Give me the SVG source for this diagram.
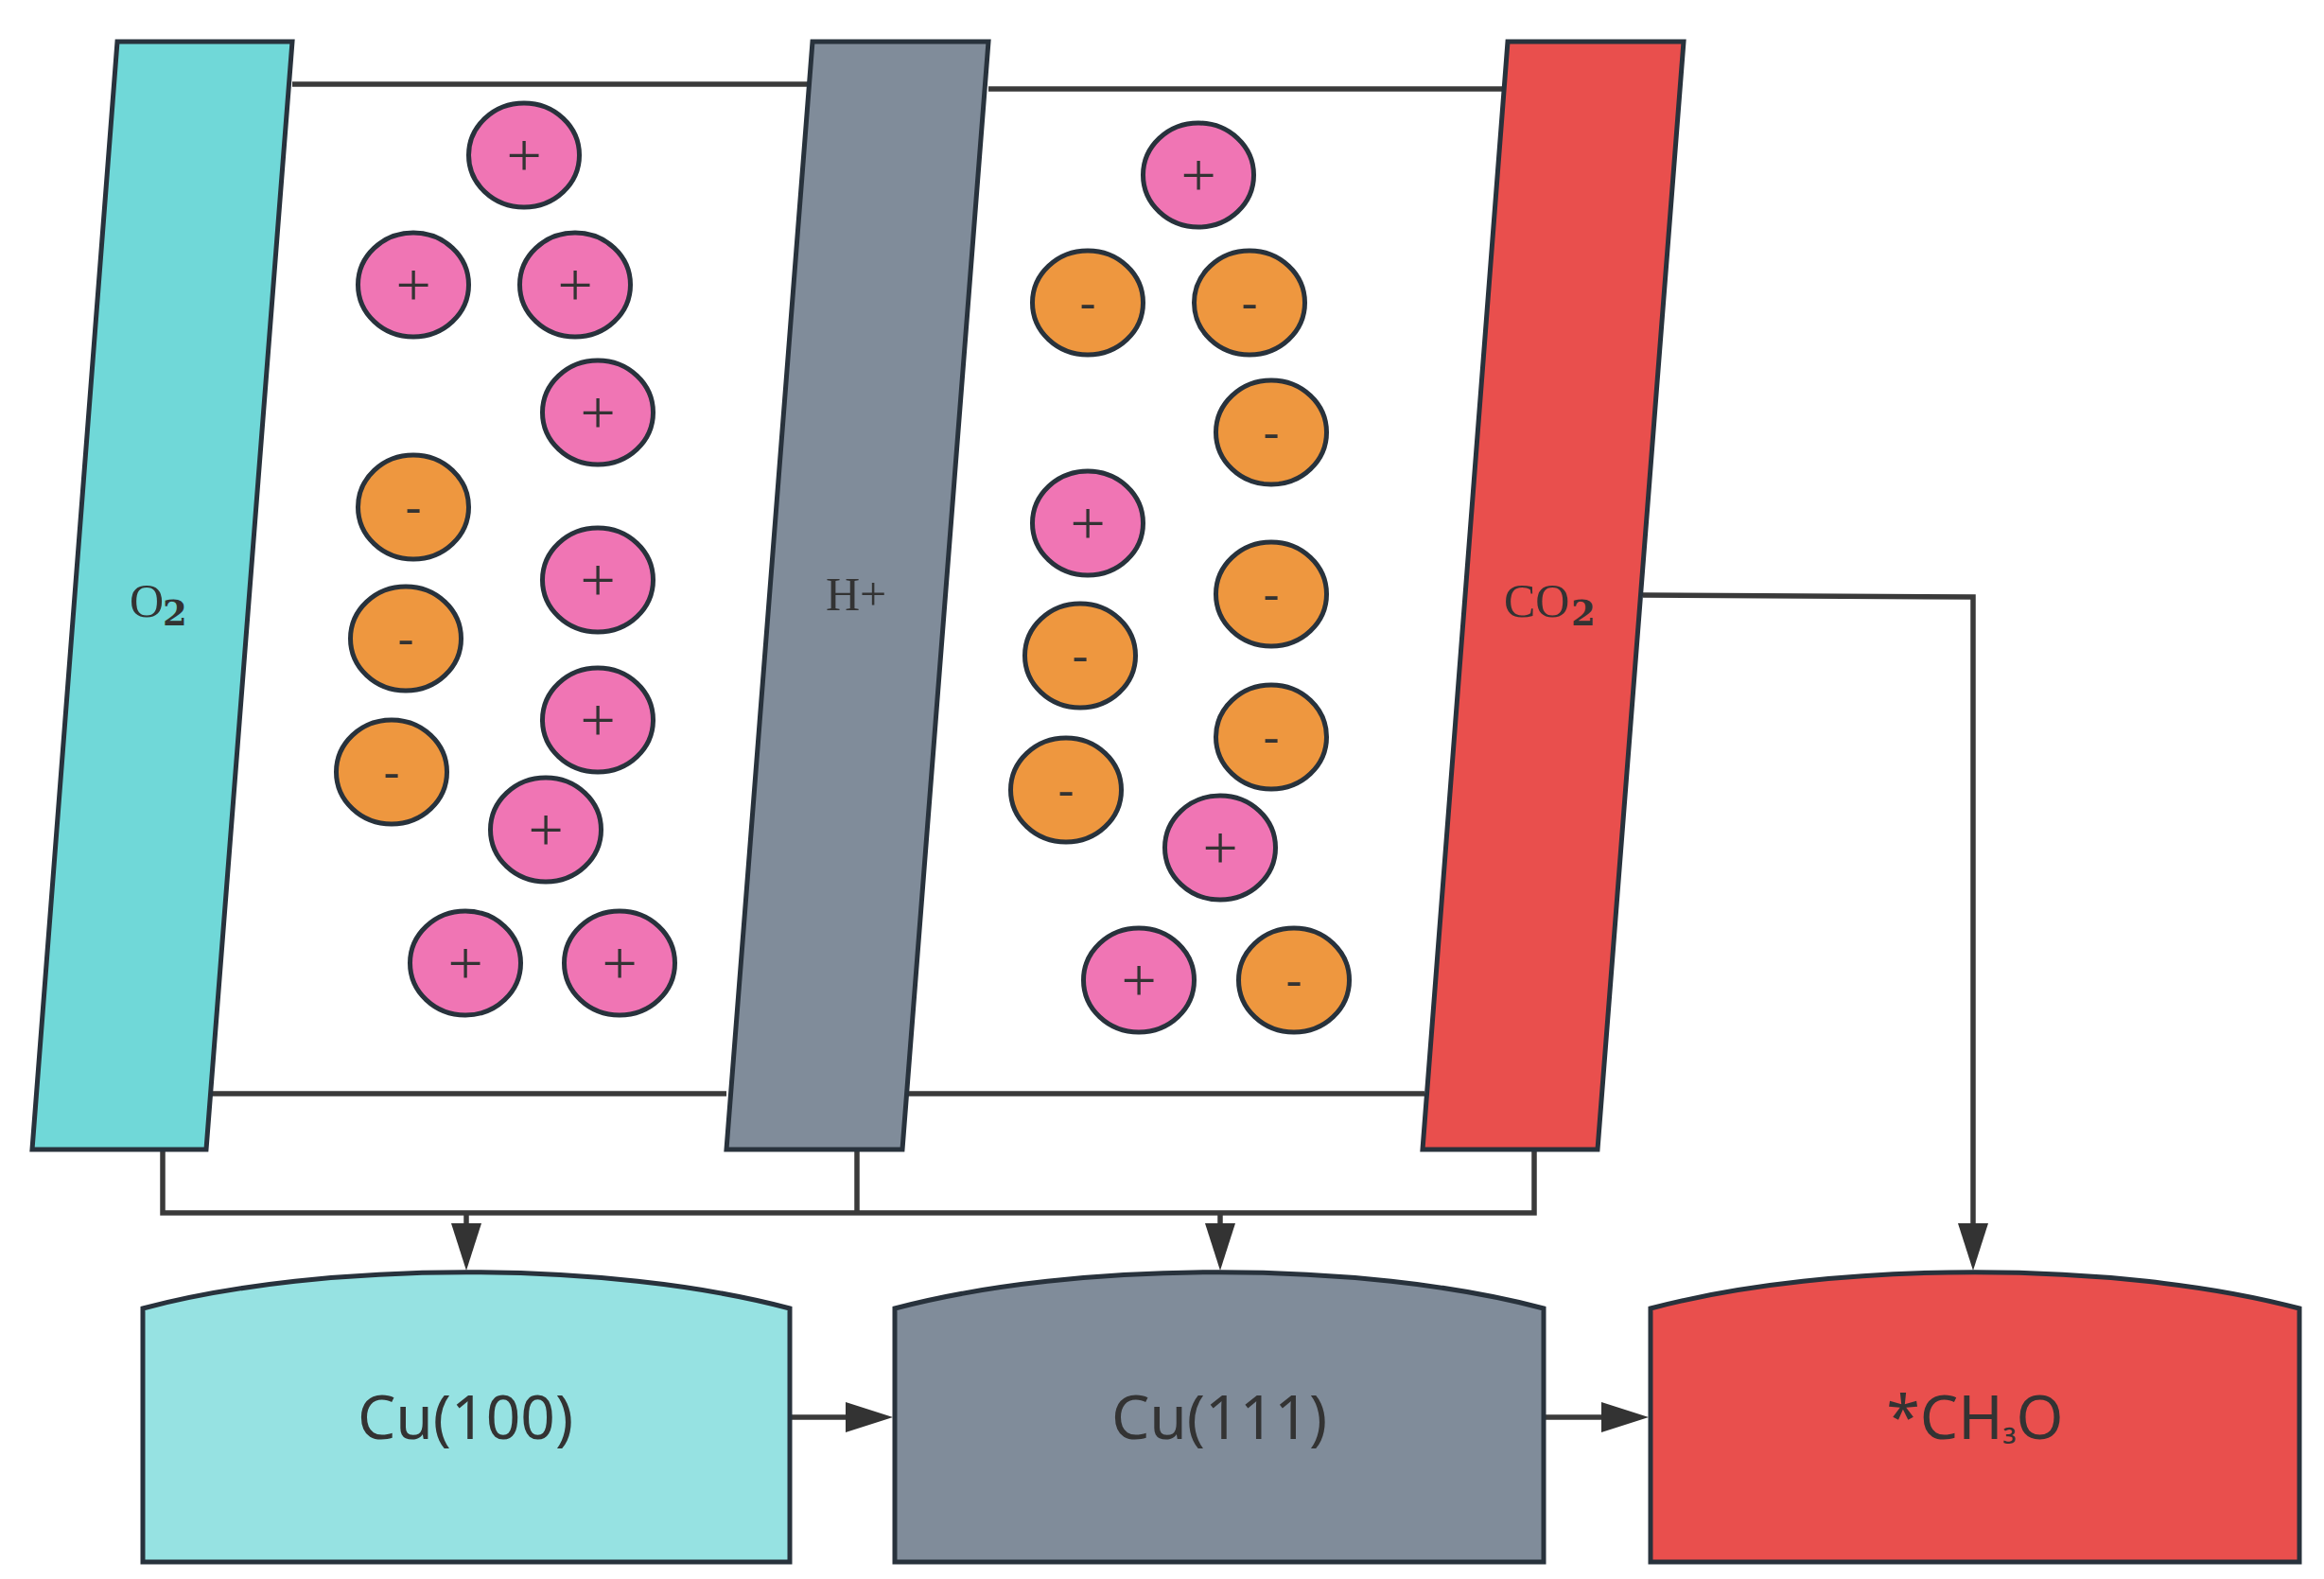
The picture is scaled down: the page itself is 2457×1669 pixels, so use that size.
<svg xmlns="http://www.w3.org/2000/svg" width="2457" height="1669" viewBox="0 0 2457 1669">
<style>
.wire{fill:none;stroke:#3a3a3a;stroke-width:5.5}
.sh{stroke:#28323c;stroke-width:5;stroke-linejoin:miter}
.pos{fill:#f075b4}.neg{fill:#ee973f}
.teal{fill:#70d8d8}.gray{fill:#808c9a}.red{fill:#e94f4d}.lteal{fill:#96e2e2}
.c{font-family:"Liberation Serif",serif;font-size:50px;fill:#333;text-anchor:middle}
.p{font-size:66px}
.m{font-family:"Liberation Serif",serif;font-size:50px;fill:#333}
.sub{font-family:"DejaVu Serif",serif;font-weight:700;font-size:37px;fill:#333}
.b{font-family:"Noto Sans",sans-serif;font-size:64px;fill:#333;text-anchor:middle}
.s3{font-size:40px}
</style>
<defs>
<marker id="ah" markerUnits="userSpaceOnUse" markerWidth="52" markerHeight="34" refX="0" refY="17" orient="auto"><path d="M0 1L50 17L0 33Z" fill="#333"/></marker>
</defs>
<rect width="2457" height="1669" fill="#fff"/>
<g id="connectors">
<path class="wire" d="M309 89H859"/>
<path class="wire" d="M1045 94H1594"/>
<path class="wire" d="M220 1156H768"/>
<path class="wire" d="M956 1156H1506"/>
<path class="wire" d="M172 1215V1282H1622V1215"/>
<path class="wire" d="M906 1215V1282"/>
<path class="wire" d="M493 1282V1293" marker-end="url(#ah)"/>
<path class="wire" d="M1290 1282V1293" marker-end="url(#ah)"/>
<path class="wire" d="M1737 629L2086 631V1293" marker-end="url(#ah)"/>
<path class="wire" d="M837 1498H894" marker-end="url(#ah)"/>
<path class="wire" d="M1634 1498H1693" marker-end="url(#ah)"/>
</g>
<g id="o2"><path class="sh teal" d="M124 44H309L218 1215H34Z"/><text class="m" x="137" y="652">O</text><text class="sub" x="172" y="661">2</text></g>
<g id="hplus"><path class="sh gray" d="M859 44H1045L954 1215H768Z"/><text class="m" x="873" y="645">H+</text></g>
<g id="co2"><path class="sh red" d="M1594 44H1780L1689 1215H1504Z"/><text class="m" x="1590" y="652">CO</text><text class="sub" x="1661" y="661">2</text></g>
<g id="left-ions">
<g id="l1"><ellipse class="sh pos" cx="554" cy="164" rx="58.5" ry="55"/><text class="c p" x="554" y="186">+</text></g>
<g id="l2"><ellipse class="sh pos" cx="437" cy="301" rx="58.5" ry="55"/><text class="c p" x="437" y="323">+</text></g>
<g id="l3"><ellipse class="sh pos" cx="608" cy="301" rx="58.5" ry="55"/><text class="c p" x="608" y="323">+</text></g>
<g id="l4"><ellipse class="sh pos" cx="632" cy="436" rx="58.5" ry="55"/><text class="c p" x="632" y="458">+</text></g>
<g id="l5"><ellipse class="sh neg" cx="437" cy="536" rx="58.5" ry="55"/><text class="c" x="437" y="552">-</text></g>
<g id="l6"><ellipse class="sh pos" cx="632" cy="613" rx="58.5" ry="55"/><text class="c p" x="632" y="635">+</text></g>
<g id="l7"><ellipse class="sh neg" cx="429" cy="675" rx="58.5" ry="55"/><text class="c" x="429" y="691">-</text></g>
<g id="l8"><ellipse class="sh pos" cx="632" cy="761" rx="58.5" ry="55"/><text class="c p" x="632" y="783">+</text></g>
<g id="l9"><ellipse class="sh neg" cx="414" cy="816" rx="58.5" ry="55"/><text class="c" x="414" y="832">-</text></g>
<g id="l10"><ellipse class="sh pos" cx="577" cy="877" rx="58.5" ry="55"/><text class="c p" x="577" y="899">+</text></g>
<g id="l11"><ellipse class="sh pos" cx="492" cy="1018" rx="58.5" ry="55"/><text class="c p" x="492" y="1040">+</text></g>
<g id="l12"><ellipse class="sh pos" cx="655" cy="1018" rx="58.5" ry="55"/><text class="c p" x="655" y="1040">+</text></g>
</g>
<g id="right-ions">
<g id="r1"><ellipse class="sh pos" cx="1267" cy="185" rx="58.5" ry="55"/><text class="c p" x="1267" y="207">+</text></g>
<g id="r2"><ellipse class="sh neg" cx="1150" cy="320" rx="58.5" ry="55"/><text class="c" x="1150" y="336">-</text></g>
<g id="r3"><ellipse class="sh neg" cx="1321" cy="320" rx="58.5" ry="55"/><text class="c" x="1321" y="336">-</text></g>
<g id="r4"><ellipse class="sh neg" cx="1344" cy="457" rx="58.5" ry="55"/><text class="c" x="1344" y="473">-</text></g>
<g id="r5"><ellipse class="sh pos" cx="1150" cy="553" rx="58.5" ry="55"/><text class="c p" x="1150" y="575">+</text></g>
<g id="r6"><ellipse class="sh neg" cx="1344" cy="628" rx="58.5" ry="55"/><text class="c" x="1344" y="644">-</text></g>
<g id="r7"><ellipse class="sh neg" cx="1142" cy="693" rx="58.5" ry="55"/><text class="c" x="1142" y="709">-</text></g>
<g id="r8"><ellipse class="sh neg" cx="1344" cy="779" rx="58.5" ry="55"/><text class="c" x="1344" y="795">-</text></g>
<g id="r9"><ellipse class="sh neg" cx="1127" cy="835" rx="58.5" ry="55"/><text class="c" x="1127" y="851">-</text></g>
<g id="r10"><ellipse class="sh pos" cx="1290" cy="896" rx="58.5" ry="55"/><text class="c p" x="1290" y="918">+</text></g>
<g id="r11"><ellipse class="sh pos" cx="1204" cy="1036" rx="58.5" ry="55"/><text class="c p" x="1204" y="1058">+</text></g>
<g id="r12"><ellipse class="sh neg" cx="1368" cy="1036" rx="58.5" ry="55"/><text class="c" x="1368" y="1052">-</text></g>
</g>
<g id="cu100"><path class="sh lteal" d="M151 1383C343 1332 643 1332 835 1383V1651H151Z"/><text class="b" x="492" y="1521">Cu(100)</text></g>
<g id="cu111"><path class="sh gray" d="M946 1383C1138 1332 1440 1332 1632 1383V1651H946Z"/><text class="b" x="1289" y="1521">Cu(111)</text></g>
<g id="ch3o"><path class="sh red" d="M1745 1383C1937 1332 2239 1332 2431 1383V1651H1745Z"/><text class="b" x="2088" y="1521">*CH<tspan class="s3">₃</tspan>O</text></g>
</svg>
